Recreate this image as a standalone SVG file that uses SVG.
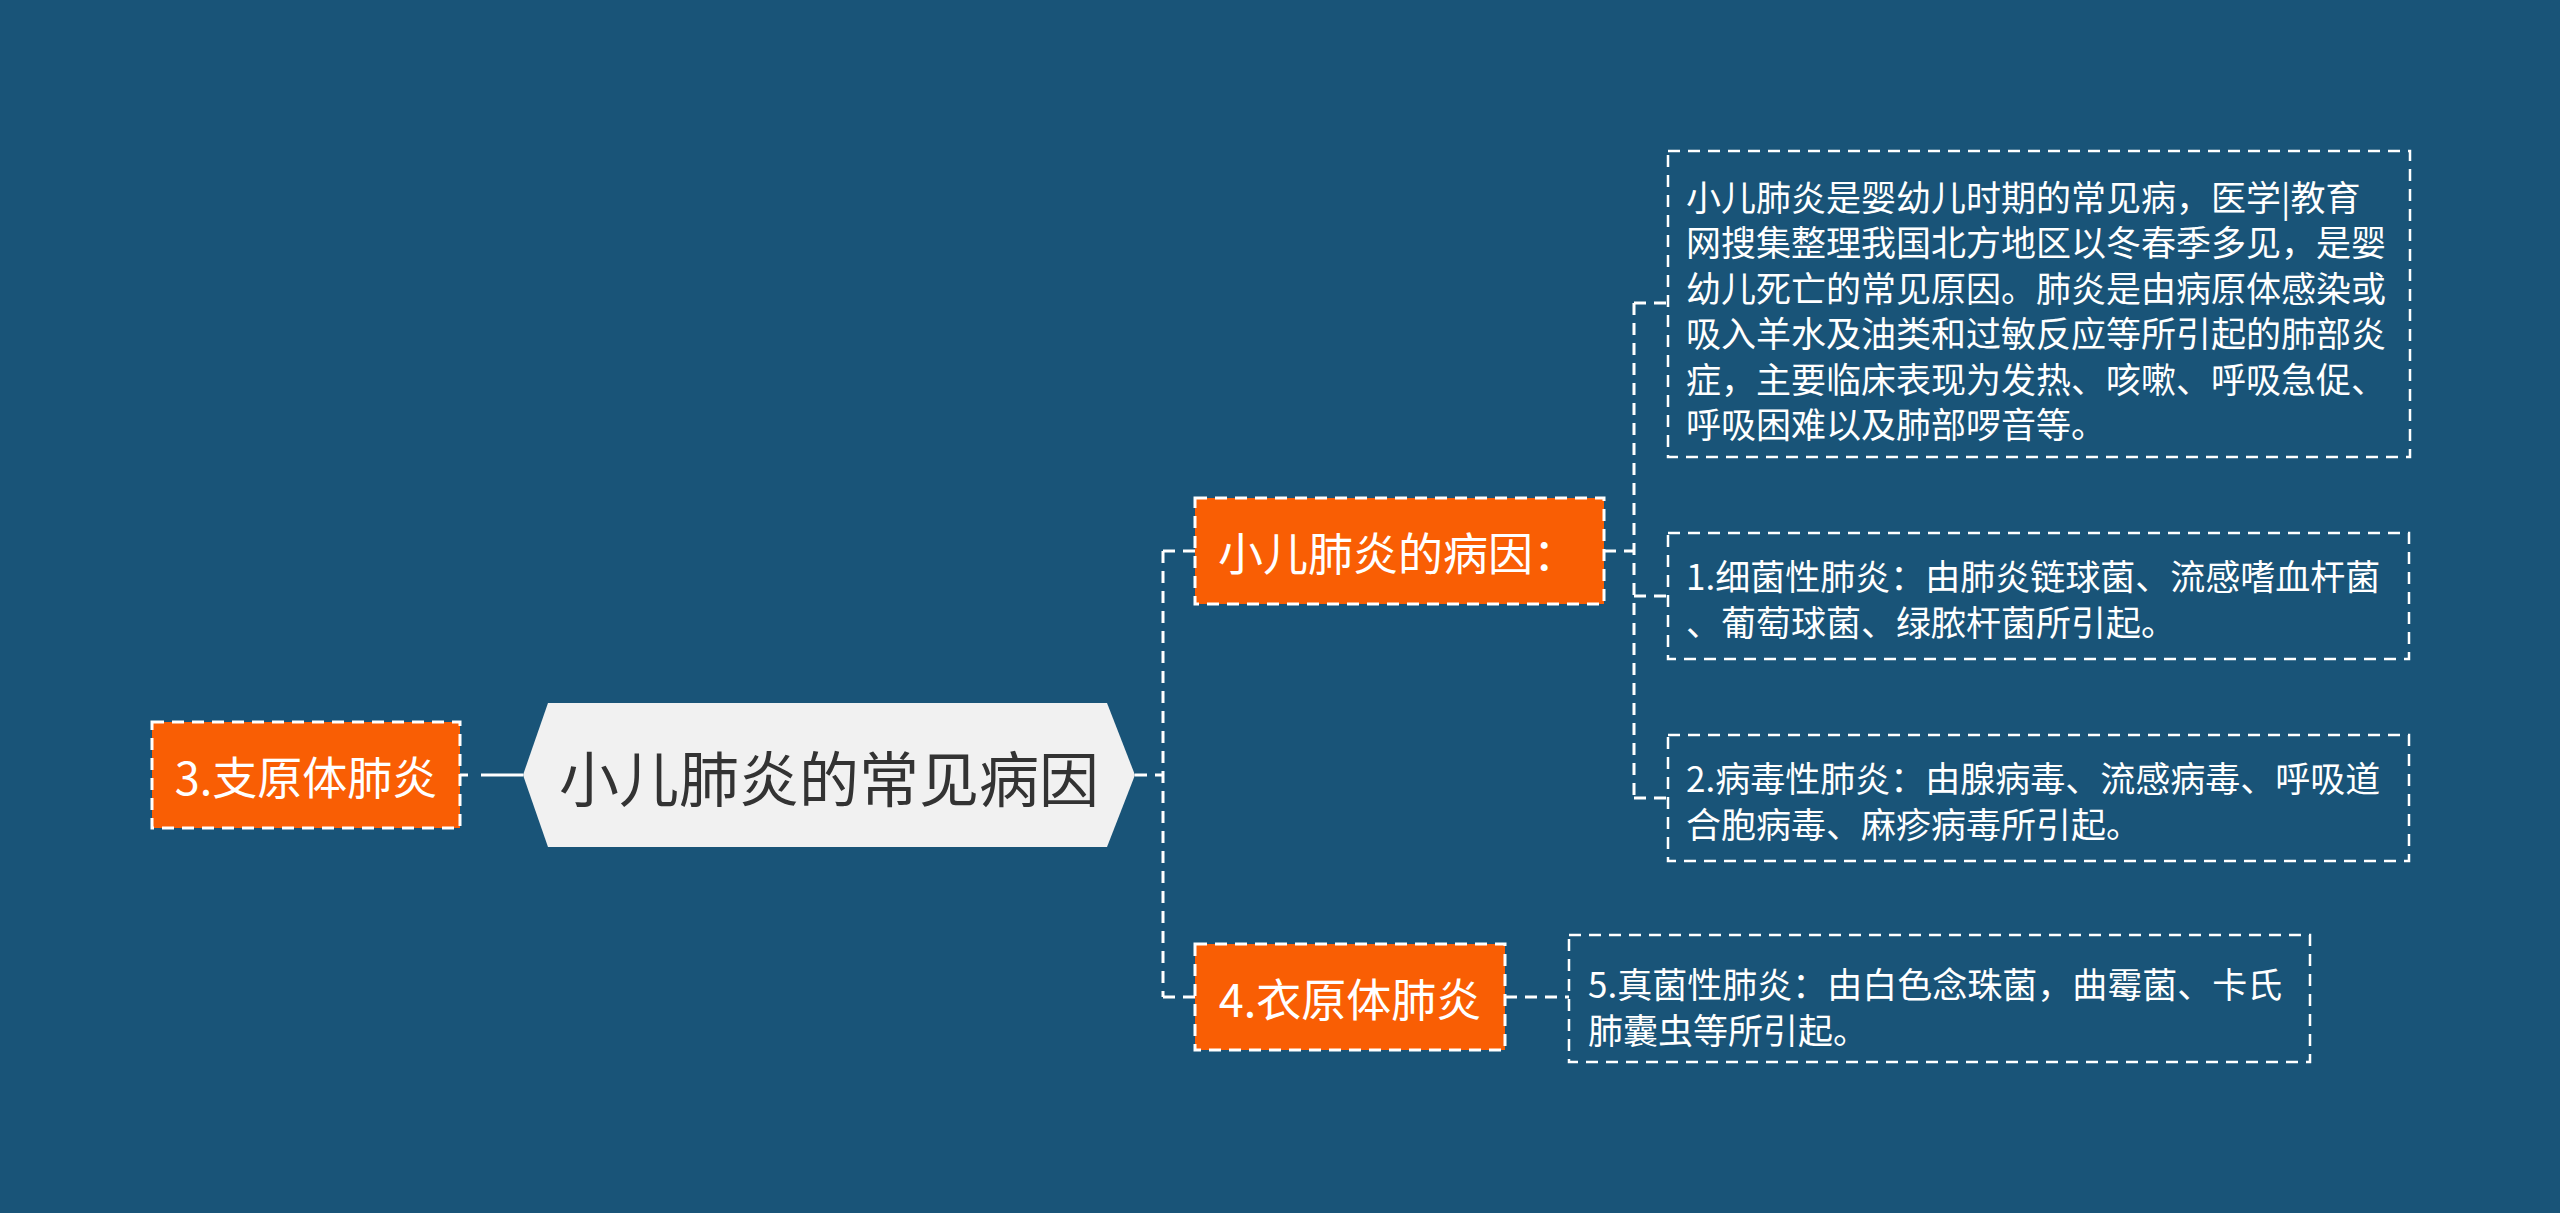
<svg xmlns="http://www.w3.org/2000/svg" width="2560" height="1213" viewBox="0 0 2560 1213">
<style>
.bg{fill:#195478}
.conn{fill:none;stroke:#ffffff;stroke-width:3;stroke-dasharray:12 8}
.orange rect{fill:#f95e04;stroke:#ffffff;stroke-width:3;stroke-dasharray:12 8}
.leaf rect{fill:none;stroke:#ffffff;stroke-width:2.5;stroke-dasharray:12 8}
.t{font-family:"Noto Sans CJK SC","Noto Sans",sans-serif;dominant-baseline:central}
.ot{font-size:45px;fill:#ffffff}
.lt{font-size:35px;fill:#ffffff}
.ct{font-size:60px;fill:#333333}
</style>
<rect class="bg" x="0" y="0" width="2560" height="1213"/>
<g id="connectors">
  <path class="conn" d="M460,775 H523" style="stroke-dasharray:8 13 60"/>
  <path class="conn" d="M1135,775 H1163 M1163,551 V997 M1163,551 H1195 M1163,997 H1195"/>
  <path class="conn" d="M1604,551 H1634 M1634,303 V797 M1634,303 H1668 M1634,596 H1668 M1634,798 H1668"/>
  <path class="conn" d="M1505,997 H1569"/>
</g>
<g id="center">
  <polygon points="523,775 548,703 1107,703 1135,775 1107,847 548,847" fill="#f1f1f1"/>
  <text class="t ct" x="829" y="775" text-anchor="middle">小儿肺炎的常见病因</text>
</g>
<g id="node-zhiyuanti" class="orange">
  <rect x="152" y="722" width="308" height="106"/>
  <text class="t ot" x="306" y="775" text-anchor="middle">3.支原体肺炎</text>
</g>
<g id="node-bingyin" class="orange">
  <rect x="1195" y="498" width="409" height="106"/>
  <text class="t ot" x="1218" y="551">小儿肺炎的病因：</text>
</g>
<g id="node-yiyuanti" class="orange">
  <rect x="1195" y="944" width="310" height="106"/>
  <text class="t ot" x="1350" y="997" text-anchor="middle">4.衣原体肺炎</text>
</g>
<g id="node-intro" class="leaf">
  <rect x="1668" y="151" width="742" height="306"/>
  <text class="t lt">
    <tspan x="1686" y="195">小儿肺炎是婴幼儿时期的常见病，医学|教育</tspan>
    <tspan x="1686" y="240">网搜集整理我国北方地区以冬春季多见，是婴</tspan>
    <tspan x="1686" y="286">幼儿死亡的常见原因。肺炎是由病原体感染或</tspan>
    <tspan x="1686" y="331">吸入羊水及油类和过敏反应等所引起的肺部炎</tspan>
    <tspan x="1686" y="377">症，主要临床表现为发热、咳嗽、呼吸急促、</tspan>
    <tspan x="1686" y="422">呼吸困难以及肺部啰音等。</tspan>
  </text>
</g>
<g id="node-xijun" class="leaf">
  <rect x="1668" y="533" width="741" height="126"/>
  <text class="t lt">
    <tspan x="1686" y="574">1.细菌性肺炎：由肺炎链球菌、流感嗜血杆菌</tspan>
    <tspan x="1686" y="620">、葡萄球菌、绿脓杆菌所引起。</tspan>
  </text>
</g>
<g id="node-bingdu" class="leaf">
  <rect x="1668" y="735" width="741" height="126"/>
  <text class="t lt">
    <tspan x="1686" y="776">2.病毒性肺炎：由腺病毒、流感病毒、呼吸道</tspan>
    <tspan x="1686" y="822">合胞病毒、麻疹病毒所引起。</tspan>
  </text>
</g>
<g id="node-zhenjun" class="leaf">
  <rect x="1569" y="935" width="741" height="127"/>
  <text class="t lt">
    <tspan x="1588" y="982">5.真菌性肺炎：由白色念珠菌，曲霉菌、卡氏</tspan>
    <tspan x="1588" y="1028">肺囊虫等所引起。</tspan>
  </text>
</g>
</svg>
